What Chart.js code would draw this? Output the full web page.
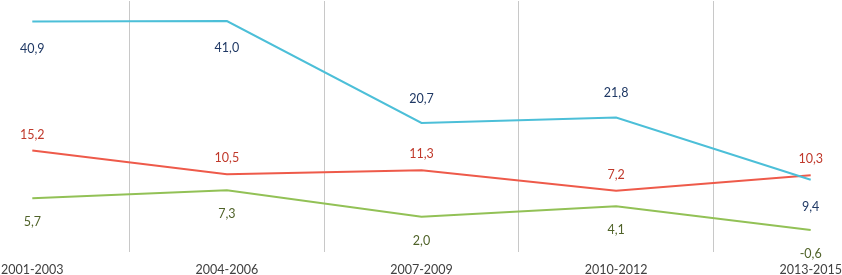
<!DOCTYPE html>
<html>
<head>
<meta charset="utf-8">
<script src="https://cdn.jsdelivr.net/npm/chart.js@4"></script>
<style>
  html, body { margin: 0; padding: 0; background: #fff; overflow: hidden; }
  #wrap { position: absolute; left: -65px; top: 0; width: 973px; height: 287px; }
</style>
</head>
<body>
<div id="wrap"><canvas id="chart"></canvas></div>
<script>
// periodos
const periodos = ['2001-2003', '2004-2006', '2007-2009', '2010-2012', '2013-2015'];

// series
const serieAzul = [40.9, 41.0, 20.7, 21.8, 9.4];
const serieRoja = [15.2, 10.5, 11.3, 7.2, 10.3];
const serieVerde = [5.7, 7.3, 2.0, 4.1, -0.6];

// posicion de etiqueta por punto
const posAzul = ['below', 'below', 'above', 'above', 'below'];
const posRoja = ['above', 'above', 'above', 'above', 'above'];
const posVerde = ['below', 'below', 'below', 'below', 'below'];

const FONT = 'Lato, "Open Sans", sans-serif';

/**
 * Dibuja las etiquetas de valor sobre o bajo cada punto.
 */
const etiquetasPlugin = {
  id: 'etiquetas',
  afterDatasetsDraw(chart) {
    const ctx = chart.ctx;
    ctx.save();
    ctx.font = '12.5px ' + FONT;
    ctx.textAlign = 'center';
    ctx.textBaseline = 'middle';
    chart.data.datasets.forEach((ds, i) => {
      const meta = chart.getDatasetMeta(i);
      meta.data.forEach((pt, j) => {
        const above = ds.posiciones[j] === 'above';
        const dy = above ? -ds.offArriba : ds.offAbajo;
        ctx.fillStyle = ds.labelColor;
        ctx.fillText(ds.data[j].toFixed(1).replace('.', ','), pt.x, pt.y + dy);
      });
    });
    ctx.restore();
  }
};

new Chart(document.getElementById('chart'), {
  type: 'line',
  data: {
    labels: periodos,
    datasets: [
      { data: serieAzul, borderColor: '#4cbfd8', labelColor: '#1f3864', posiciones: posAzul, offArriba: 24, offAbajo: 27 },
      { data: serieRoja, borderColor: '#ee5a4a', labelColor: '#c0392b', posiciones: posRoja, offArriba: 16, offAbajo: 20 },
      { data: serieVerde, borderColor: '#92c156', labelColor: '#4f6228', posiciones: posVerde, offArriba: 20, offAbajo: 24 }
    ].map(d => Object.assign({ borderWidth: 2, pointRadius: 0, tension: 0, fill: false }, d))
  },
  options: {
    responsive: true,
    maintainAspectRatio: false,
    animation: false,
    layout: { padding: { top: 1, bottom: 0 } },
    plugins: { legend: { display: false }, tooltip: { enabled: false } },
    scales: {
      x: {
        offset: true,
        border: { display: false },
        grid: { color: '#c8c8c8', lineWidth: 1, drawTicks: true, tickLength: 0, offset: true },
        ticks: { color: '#404040', font: { family: FONT, size: 12.5 }, padding: 10, maxRotation: 0 }
      },
      y: {
        display: false,
        min: -5,
        max: 45
      }
    }
  },
  plugins: [etiquetasPlugin]
});
</script>
</body>
</html>
